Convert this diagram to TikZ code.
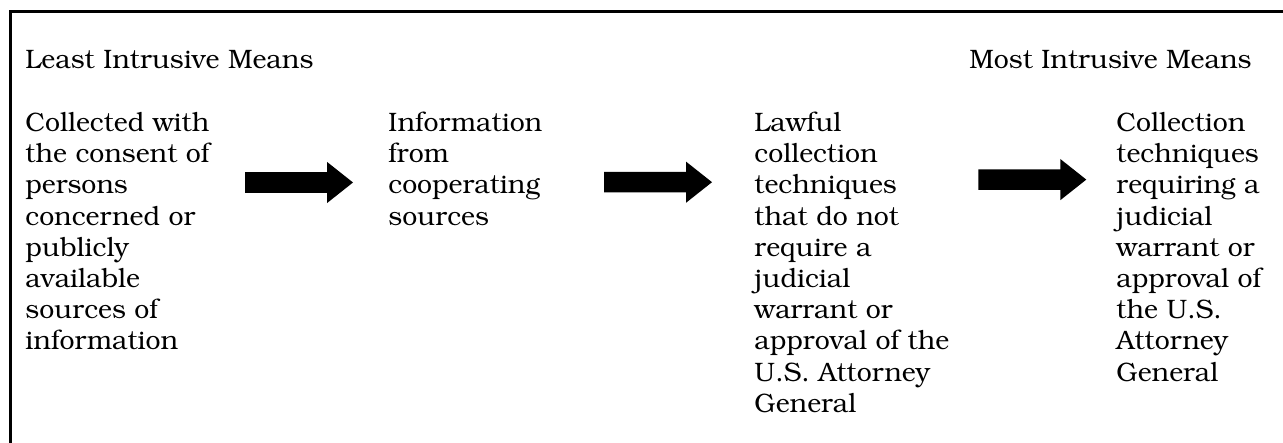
\documentclass[tikz,border=0pt]{standalone}
\usepackage[T1]{fontenc}
\usepackage{bookman}
\newcommand\colstack[1]{\vtop{\baselineskip=14.04pt\lineskiplimit=-\maxdimen\halign{##\hfil\cr#1\crcr}}}
\tikzset{
  lbl/.style={inner sep=0pt, anchor=base west, font=\fontsize{12}{14.04}\selectfont},
  coltext/.style={lbl},
  frameline/.style={line width=1.2pt, draw=black},
  blockarrow/.pic={\fill[black] (0,-10.3) -- (82,-10.3) -- (82,-20.6) -- (108,0) -- (82,20.6) -- (82,10.3) -- (0,10.3) -- cycle;}
}
\begin{document}
\begin{tikzpicture}[x=0.45pt,y=-0.45pt]
\useasboundingbox (0,0) rectangle (1283,443);
\clip (0,0) rectangle (1283,443);
\draw[frameline] (10.8,460) |- (1300,11.3);
\node[lbl] (least) at (25,68.3) {Least Intrusive Means};
\node[lbl, anchor=base east] (most) at (1252,68.3) {Most Intrusive Means};
\node[coltext] (c1) at (25,131.5) {\colstack{Collected with\cr the consent of\cr persons\cr concerned or\cr publicly\cr available\cr sources of\cr information}};
\node[coltext] (c2) at (388,131.5) {\colstack{Information\cr from\cr cooperating\cr sources}};
\node[coltext] (c3) at (754,131.5) {\colstack{Lawful\cr collection\cr techniques\cr that do not\cr require a\cr judicial\cr warrant or\cr approval of the\cr U.S. Attorney\cr General}};
\node[coltext] (c4) at (1116,131.5) {\colstack{Collection\cr techniques\cr requiring a\cr judicial\cr warrant or\cr approval of\cr the U.S.\cr Attorney\cr General}};
\coordinate (a1) at (245,182.5);
\coordinate (a2) at (604,182.2);
\coordinate (a3) at (978.3,179.6);
\pic at (a1) {blockarrow};
\pic at (a2) {blockarrow};
\pic at (a3) {blockarrow};
\end{tikzpicture}
\end{document}
